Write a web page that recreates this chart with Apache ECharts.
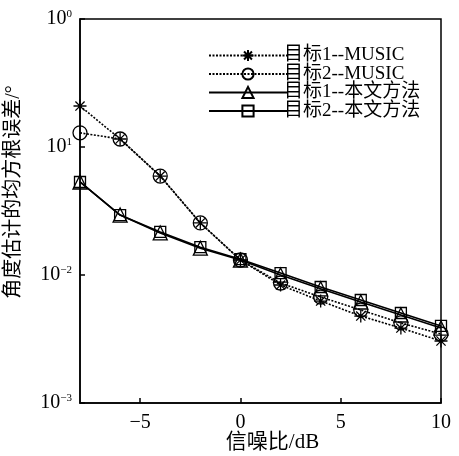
<!DOCTYPE html>
<html><head><meta charset="utf-8">
<script src="https://cdn.jsdelivr.net/npm/echarts@6/dist/echarts.min.js"></script>
<style>html,body{margin:0;padding:0;background:#fff}#c{width:459px;height:456px}</style>
</head><body><div id="c"></div>
<script>
const snr = [-8, -6, -4, -2, 0, 2, 4, 6, 8, 10];
const music1 = [0.209, 0.1155, 0.0593, 0.0255, 0.0131, 0.00835, 0.00626, 0.00478, 0.00385, 0.00305];
const music2 = [0.129, 0.1155, 0.0593, 0.0255, 0.0131, 0.00866, 0.00673, 0.00533, 0.00422, 0.00346];
const prop1 = [0.0533, 0.0294, 0.0213, 0.0162, 0.0131, 0.00999, 0.0078, 0.00615, 0.00487, 0.00385];
const prop2 = [0.0533, 0.0294, 0.0217, 0.0165, 0.0133, 0.01036, 0.00806, 0.00638, 0.00505, 0.0040];
const seriesNames = ['目标1--MUSIC', '目标2--MUSIC', '目标1--本文方法', '目标2--本文方法'];
const xTicks = [-5, 0, 5, 10];
const yTickValues = [0.001, 0.01, 0.1, 1];
const yTickExp = ['−3', '−2', '1', '0'];

const serif = '"Liberation Serif","Times New Roman","Noto Sans CJK SC",serif';
const cjk = '"Liberation Serif","Noto Sans CJK SC",serif';
const star = 'path://M0,-10L0,10M-10,0L10,0M-7.07,-7.07L7.07,7.07M-7.07,7.07L7.07,-7.07';

function pairs(arr){ return snr.map((x,i)=>[x, arr[i]]); }
function mk(name, data, symbol, size, dashed){
  return {
    name, type:'line', data: pairs(data), symbol, symbolSize:size, showAllSymbol:true,
    lineStyle:{color:'#000', width:1.6, type: dashed ? [2,1.5] : 'solid'},
    itemStyle:{color:'rgba(0,0,0,0)', borderColor:'#000', borderWidth:1.3},
    emphasis:{disabled:true}, animation:false, z: dashed?3:2
  };
}
const chart = echarts.init(document.getElementById('c'), null, {renderer:'canvas'});
chart.setOption({
  animation:false,
  backgroundColor:'#fff',
  grid:{left:80, right:18, top:19, bottom:53, outerBoundsMode:'none', containLabel:false,
    show:true, borderColor:'#000', borderWidth:1.5, backgroundColor:'transparent'},
  legend:{
    orient:'vertical', left:203, top:41, itemWidth:78, itemHeight:14, itemGap:-0.5,
    textStyle:{fontFamily:cjk, fontSize:19, lineHeight:16, color:'#000', padding:[0,0,0,-8]},
    data: seriesNames
  },
  xAxis:{
    type:'value', min:-8, max:10,
    name:'信噪比/dB', nameLocation:'middle', nameGap:29, nameMoveOverlap:false,
    nameTextStyle:{fontFamily:cjk, fontSize:21, color:'#000', padding:[0,0,0,24]},
    axisLine:{onZero:false, lineStyle:{color:'#000', width:1.5}},
    axisTick:{inside:true, length:5, customValues:xTicks, lineStyle:{color:'#000', width:1.5}},
    axisLabel:{customValues:xTicks, fontFamily:serif, fontSize:20, color:'#000', margin:10,
      formatter:v=>String(v).replace('-', '−')},
    splitLine:{show:false}
  },
  yAxis:{
    type:'log', logBase:10, min:0.001, max:1,
    name:'角度估计的均方根误差/°', nameLocation:'middle', nameGap:56, nameRotate:90, nameMoveOverlap:false,
    nameTextStyle:{fontFamily:cjk, fontSize:20, color:'#000', padding:[0,0,0,38]},
    axisLine:{onZero:false, lineStyle:{color:'#000', width:1.5}},
    axisTick:{inside:true, length:5, lineStyle:{color:'#000', width:1.5}},
    minorTick:{show:false},
    axisLabel:{
      margin:8, color:'#000',
      formatter:v=>{
        let idx = yTickValues.findIndex(t=>Math.abs(Math.log10(t)-Math.log10(v))<1e-6);
        return '{b|10}{s|' + (idx>=0 ? yTickExp[idx] : '') + '}';
      },
      rich:{
        b:{fontFamily:serif, fontSize:20, color:'#000'},
        s:{fontFamily:serif, fontSize:11, color:'#000', verticalAlign:'top', padding:[0,0,10,0]}
      }
    },
    splitLine:{show:false}
  },
  series:[
    mk(seriesNames[0], music1, star, 13, true),
    mk(seriesNames[1], music2, 'circle', 14, true),
    mk(seriesNames[2], prop1, 'triangle', 14, false),
    mk(seriesNames[3], prop2, 'rect', 11, false)
  ]
});
</script></body></html>
